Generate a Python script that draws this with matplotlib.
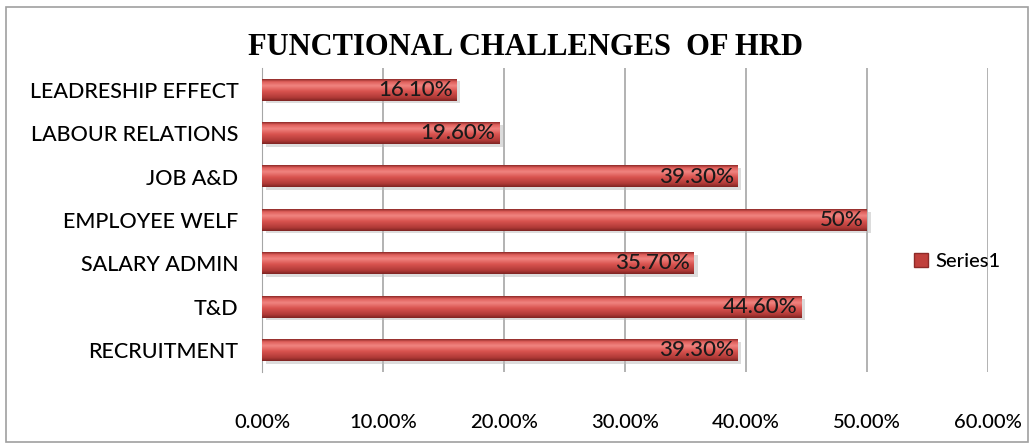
import matplotlib.pyplot as plt
import numpy as np
from matplotlib import patches as patches
from matplotlib.colors import LinearSegmentedColormap

# Data (bottom to top as drawn)
categories = ['RECRUITMENT', 'T&D', 'SALARY ADMIN', 'EMPLOYEE WELF',
              'JOB A&D', 'LABOUR RELATIONS', 'LEADRESHIP EFFECT']
values = [39.3, 44.6, 35.7, 50.0, 39.3, 19.6, 16.1]
value_labels = ['39.30%', '44.60%', '35.70%', '50%', '39.30%', '19.60%', '16.10%']
xticks = [0, 10, 20, 30, 40, 50, 60]
xtick_labels = ['0.00%', '10.00%', '20.00%', '30.00%', '40.00%', '50.00%', '60.00%']

fig = plt.figure(figsize=(10.34, 4.47), dpi=100)
ax = fig.add_axes([0.2534, 0.1678, 0.702, 0.68])

# outer chart border
fig.add_artist(patches.Rectangle((0.006, 0.012), 0.988, 0.972, transform=fig.transFigure,
                                 fill=False, edgecolor='#a0a0a0', linewidth=1.2))

# gradient for the bars: dark edge, light highlight, darker bottom
cmap = LinearSegmentedColormap.from_list('bar', [
    (0.0, '#8e2a28'), (0.12, '#e0605c'), (0.3, '#f08480'),
    (0.55, '#d9534f'), (0.85, '#b03a37'), (1.0, '#7e2422')])
grad = np.linspace(0, 1, 64).reshape(-1, 1)

h = 0.5
for i, v in enumerate(values):
    # soft shadow
    ax.add_patch(patches.Rectangle((0.3, i - h / 2 - 0.06), v, h, facecolor='#bbbbbb',
                                   edgecolor='none', alpha=0.5, zorder=2))
    ax.imshow(grad, cmap=cmap, aspect='auto', extent=(0, v, i - h / 2, i + h / 2),
              origin='upper', zorder=3, interpolation='bilinear')
    ax.text(v - 0.3, i, value_labels[i], ha='right', va='center', fontsize=16,
            family='Lato', fontweight='medium', color='#1a1a1a', zorder=4)

ax.set_xlim(0, 60)
ax.set_ylim(-0.5, len(categories) - 0.5)
ax.set_yticks(range(len(categories)))
ax.set_yticklabels(categories, fontsize=15.5, family='Lato', fontweight='medium')
ax.set_xticks(xticks)
ax.set_xticklabels(xtick_labels, fontsize=14.5, family='Lato', fontweight='medium')
ax.tick_params(axis='y', length=0, pad=17)
ax.tick_params(axis='x', length=0, pad=30)
ax.xaxis.grid(True, color='#a6a6a6', linewidth=1.2, zorder=1)
ax.set_axisbelow(True)
for s in ['top', 'right', 'bottom']:
    ax.spines[s].set_visible(False)
ax.spines['left'].set_color('#a6a6a6')

fig.text(0.508, 0.893, 'FUNCTIONAL CHALLENGES  OF HRD', ha='center', va='center',
         fontsize=22, fontweight='bold', family='Liberation Serif')

handle = patches.Patch(facecolor='#c0403c', edgecolor='#8e2a28')
fig.legend([handle], ['Series1'], loc='center left', bbox_to_anchor=(0.866, 0.415),
           frameon=False, handlelength=0.7, handleheight=0.7,
           handletextpad=0.4, prop={'family': 'Lato', 'size': 14.5, 'weight': 'medium'})

fig.savefig('out.png', dpi=100)
